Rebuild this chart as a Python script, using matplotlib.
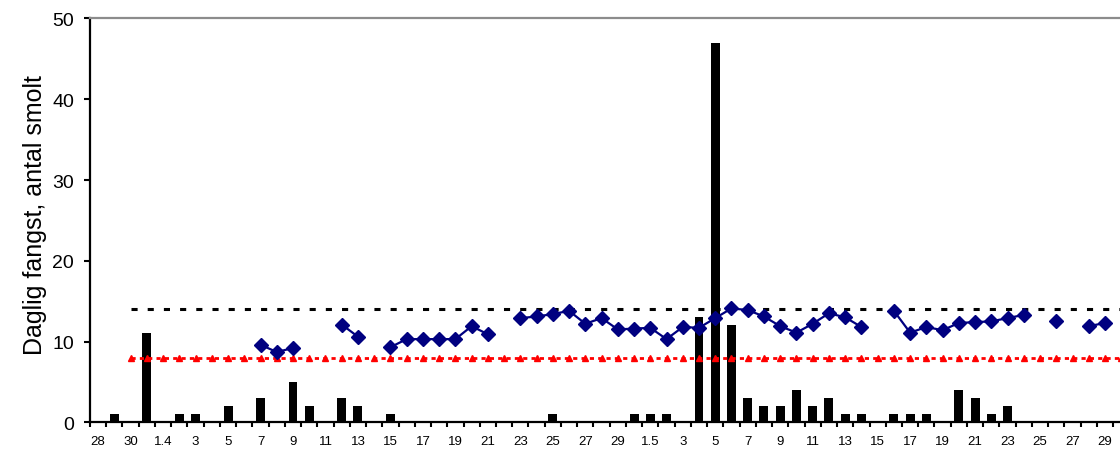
import numpy as np
import matplotlib
matplotlib.use("Agg")
import matplotlib.pyplot as plt

plt.rcParams['font.family'] = ['Liberation Sans', 'DejaVu Sans']

# dage 28.3 - 30.5, etiket på hver anden dag
dage = ['28', '29', '30', '31', '1.4'] + [str(d) for d in range(2, 31)] \
    + ['1.5'] + [str(d) for d in range(2, 31)]

# daglig fangst af smolt
fangst = [0, 1, 0, 11, 0, 1, 1, 0, 2, 0, 3, 0, 5, 2, 0, 3, 2, 0, 1, 0,
          0, 0, 0, 0, 0, 0, 0, 0, 1, 0, 0, 0, 0, 1, 1, 1, 0, 13, 47, 12,
          3, 2, 2, 4, 2, 3, 1, 1, 0, 1, 1, 1, 0, 4, 3, 1, 2, 0, 0, 0,
          0, 0, 0, 0]

nan = np.nan
# blå serie (huller = ingen måling)
blaa = [nan] * 10 + [9.6, 8.7, 9.2, nan, nan, 12.1, 10.6, nan, 9.3, 10.3,
                     10.3, 10.3, 10.3, 11.9, 10.9, nan, 12.9, 13.1, 13.4, 13.8,
                     12.2, 12.9, 11.5, 11.6, 11.7, 10.3, 11.8, 11.7, 12.9, 14.1,
                     13.9, 13.1, 11.9, 11.1, 12.2, 13.5, 13.0, 11.8, nan, 13.8,
                     11.1, 11.8, 11.4, 12.3, 12.4, 12.5, 12.9, 13.3, nan, 12.5,
                     nan, 11.9, 12.3, nan]

niveau_hoej = 14
niveau_lav = 8
start_niveau = 2

x = np.arange(len(dage))

fig = plt.figure(figsize=(11.2, 4.52), dpi=100)
ax = fig.add_axes([90 / 1120, 0.0635, 64 * 16.24 / 1120, 0.8934])

ax.bar(x, fangst, width=0.55, color='black', zorder=2)

xn = np.append(x[start_niveau:], len(dage))
ax.plot(xn, [niveau_hoej] * len(xn), color='black', lw=2.2,
        linestyle=(0, (2.0, 3.3)), zorder=3)
ax.plot(xn, [niveau_lav] * len(xn), color='#ff0000', lw=2.0,
        linestyle=(0, (1.5, 1.5)), marker='^', ms=5, mec='#ff0000',
        mfc='#ff0000', zorder=3)
ax.plot(x, blaa, color='#000080', lw=1.6, marker='D', ms=7.5,
        mfc='#000080', mec='#000080', zorder=4)

ax.set_xlim(-0.5, len(dage) - 0.5)
ax.set_ylim(0, 50)
ax.set_yticks(range(0, 51, 10))
ax.tick_params(axis='y', labelsize=14, length=4.5, width=1.5, pad=7)

ax.set_xticks(np.arange(-0.5, len(dage), 1))
ax.set_xticklabels([])
ax.tick_params(axis='x', which='major', length=3.5, width=1.5)
ax.set_xticks(x[::2], dage[::2], minor=True)
ax.tick_params(axis='x', which='minor', length=0, labelsize=9.5, pad=9)

for s in ['left', 'bottom']:
    ax.spines[s].set_linewidth(1.6)
    ax.spines[s].set_color('black')
ax.spines['top'].set_color('#8c8c8c')
ax.spines['top'].set_linewidth(1.6)
ax.spines['right'].set_color('#8c8c8c')

ax.set_ylabel('Daglig fangst, antal smolt', fontsize=18)
ax.yaxis.set_label_coords(-43 / (64 * 16.24), 0.515)

fig.savefig('out.png', dpi=100)
